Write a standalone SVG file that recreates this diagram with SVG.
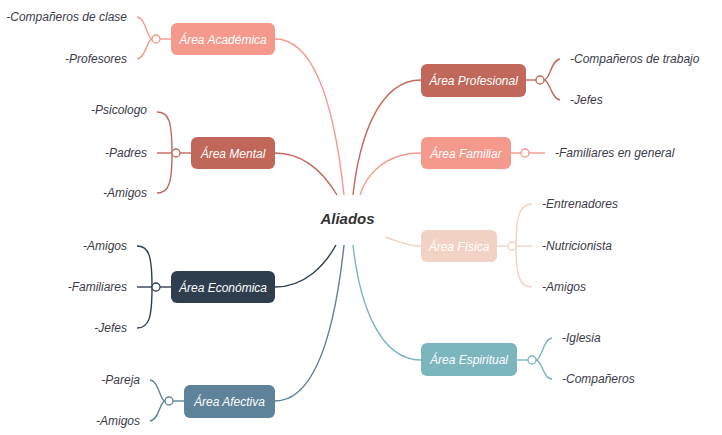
<svg xmlns="http://www.w3.org/2000/svg" width="722" height="435" viewBox="0 0 722 435">
<style>
text{font-family:"Liberation Sans",Arial,sans-serif;font-style:italic}
.leaf{font-size:12px;fill:#3b3b48}
.le{text-anchor:end}
.lbl{font-size:12px;fill:#ffffff;text-anchor:middle}
.c{fill:none;stroke-width:1.4}
.dot{fill:#ffffff;stroke-width:1.3}
</style>
<rect width="722" height="435" fill="#ffffff"/>
<g id="connectors" class="c">
<path d="M275,39 C318,39 336,120 344,195" stroke="#F4998B"/>
<path d="M275,153 C305,153 325,175 337,195" stroke="#C1675A"/>
<path d="M421,80 C378,80 359,140 353,195" stroke="#C1685B"/>
<path d="M421,153 C385,153 366,175 360,195" stroke="#F4998B"/>
<path d="M421,246 C405,246 396,240 385,237" stroke="#F2D2C4"/>
<path d="M275,287 C305,287 325,265 336,245" stroke="#2E3E4E"/>
<path d="M275,401 C318,401 336,320 344,245" stroke="#5E8299"/>
<path d="M421,360 C378,360 359,300 353,245" stroke="#7BB5BE"/>
</g>
<g id="root"><text x="347.5" y="224" style="font-size:15px;font-weight:bold;fill:#333333;text-anchor:middle">Aliados</text></g>
<g id="academica">
<g class="c" stroke="#F4998B"><path d="M171,39 H160"/><path d="M137,17 C146,18 147,39 152,39"/><path d="M137,59 C146,58 147,39 152,39"/></g>
<rect x="171" y="23" width="104" height="32" rx="6" fill="#F4998B"/>
<text class="lbl" x="223" y="43.5">Área Académica</text>
<circle class="dot" cx="156" cy="39" r="4" stroke="#F4998B"/>
<text class="leaf le" x="127" y="21">-Compañeros de clase</text>
<text class="leaf le" x="127" y="63">-Profesores</text>
</g>
<g id="mental">
<g class="c" stroke="#C1675A"><path d="M191,153 H180"/><path d="M157,112 C169,112 172,122 172,153"/><path d="M157,153 H172"/><path d="M157,193 C169,193 172,183 172,153"/></g>
<rect x="191" y="137" width="84" height="32" rx="6" fill="#C1675A"/>
<text class="lbl" x="233" y="157.5">Área Mental</text>
<circle class="dot" cx="176" cy="153" r="4" stroke="#C1675A"/>
<text class="leaf le" x="147" y="114">-Psicologo</text>
<text class="leaf le" x="147" y="157">-Padres</text>
<text class="leaf le" x="147" y="197">-Amigos</text>
</g>
<g id="economica">
<g class="c" stroke="#2E3E4E"><path d="M171,287 H160"/><path d="M137,246 C149,246 152,256 152,287"/><path d="M137,287 H152"/><path d="M137,328 C149,328 152,318 152,287"/></g>
<rect x="171" y="271" width="104" height="32" rx="6" fill="#2E3E4E"/>
<text class="lbl" x="223" y="291.5">Área Económica</text>
<circle class="dot" cx="156" cy="287" r="4" stroke="#2E3E4E"/>
<text class="leaf le" x="127" y="250">-Amigos</text>
<text class="leaf le" x="127" y="291">-Familiares</text>
<text class="leaf le" x="127" y="332">-Jefes</text>
</g>
<g id="afectiva">
<g class="c" stroke="#5E8299"><path d="M184,401 H173"/><path d="M150,380 C159,381 160,401 165,401"/><path d="M150,421 C159,420 160,401 165,401"/></g>
<rect x="184" y="385" width="91" height="33" rx="6" fill="#5E8299"/>
<text class="lbl" x="229.5" y="405.5">Área Afectiva</text>
<circle class="dot" cx="169" cy="401" r="4" stroke="#5E8299"/>
<text class="leaf le" x="140" y="384">-Pareja</text>
<text class="leaf le" x="140" y="425">-Amigos</text>
</g>
<g id="profesional">
<g class="c" stroke="#C1685B"><path d="M526,80 H536"/><path d="M544,80 C550,80 551,60 560,59"/><path d="M544,80 C550,80 551,99 560,100"/></g>
<rect x="421" y="64" width="105" height="33" rx="6" fill="#C1685B"/>
<text class="lbl" x="473.5" y="84.5">Área Profesional</text>
<circle class="dot" cx="540" cy="80" r="4" stroke="#C1685B"/>
<text class="leaf" x="570" y="63">-Compañeros de trabajo</text>
<text class="leaf" x="570" y="104">-Jefes</text>
</g>
<g id="familiar">
<g class="c" stroke="#F4998B"><path d="M511,153 H521"/><path d="M529,153 H545"/></g>
<rect x="421" y="137" width="90" height="32" rx="6" fill="#F4998B"/>
<text class="lbl" x="466" y="157.5">Área Familiar</text>
<circle class="dot" cx="525" cy="153" r="4" stroke="#F4998B"/>
<text class="leaf" x="555" y="157">-Familiares en general</text>
</g>
<g id="fisica">
<g class="c" stroke="#F2D2C4"><path d="M497,246 H508"/><path d="M516,246 H532"/><path d="M532,204 C520,204 516,215 516,246"/><path d="M532,287 C520,287 516,277 516,246"/></g>
<rect x="421" y="230" width="76" height="32" rx="6" fill="#F2D2C4"/>
<text class="lbl" x="459" y="250.5">Área Física</text>
<circle class="dot" cx="512" cy="246" r="4" stroke="#F2D2C4"/>
<text class="leaf" x="542" y="208">-Entrenadores</text>
<text class="leaf" x="542" y="250">-Nutricionista</text>
<text class="leaf" x="542" y="291">-Amigos</text>
</g>
<g id="espiritual">
<g class="c" stroke="#7BB5BE"><path d="M517,360 H528"/><path d="M536,360 C542,360 543,339 552,338"/><path d="M536,360 C542,360 543,379 552,379"/></g>
<rect x="421" y="343" width="96" height="33" rx="6" fill="#7BB5BE"/>
<text class="lbl" x="469" y="364">Área Espiritual</text>
<circle class="dot" cx="532" cy="360" r="4" stroke="#7BB5BE"/>
<text class="leaf" x="562" y="342">-Iglesia</text>
<text class="leaf" x="562" y="383">-Compañeros</text>
</g>
</svg>
